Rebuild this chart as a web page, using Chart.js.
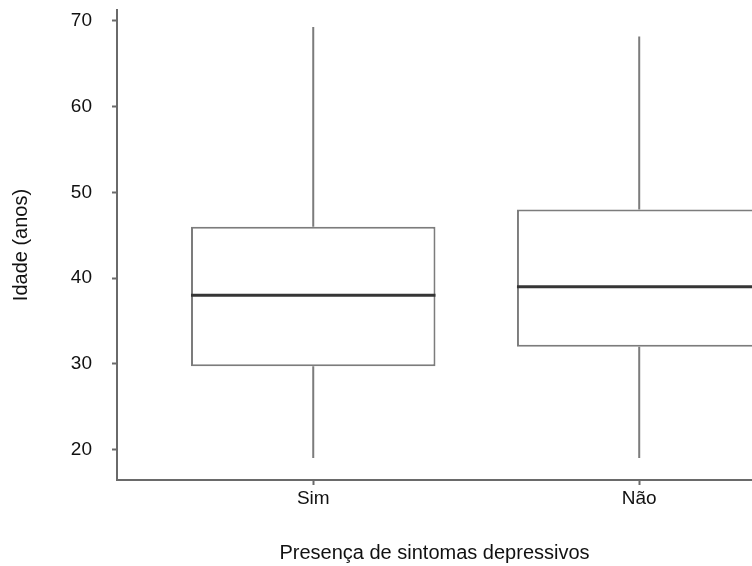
<!DOCTYPE html>
<html>
<head>
<meta charset="utf-8">
<script src="https://cdn.jsdelivr.net/npm/chart.js@4/dist/chart.umd.min.js"></script>
<style>
  html, body { margin: 0; padding: 0; background: #fff; }
  #wrap { width: 752px; height: 566px; }
</style>
</head>
<body>
<div id="wrap"><canvas id="boxChart"></canvas></div>
<script>
// Idade por presença de sintomas depressivos
const grupos = ['Sim', 'Não'];
const posicoes = [1, 2];
const minimo = [19, 19];
const quartil1 = [29.7, 32];
const mediana = [38, 39];
const quartil3 = [46, 48];
const maximo = [69.3, 68.2];
const yTicks = [20, 30, 40, 50, 60, 70];

const familia = "'Liberation Sans', Arial, sans-serif";
const fonteTick = { family: familia, size: 19 };
const fonteTitulo = { family: familia, size: 20 };
const corTexto = '#111';
const corEixo = '#6a6a6a';
const corCaixa = '#7c7c7c';

// whiskers and median line drawn on top of the boxes
const boxLines = {
    id: 'boxLines',
    afterDatasetsDraw(chart) {
        const { ctx, chartArea, scales: { y } } = chart;
        const bars = chart.getDatasetMeta(0).data;
        ctx.save();
        ctx.beginPath();
        ctx.rect(chartArea.left, chartArea.top, chartArea.width, chartArea.height);
        ctx.clip();
        bars.forEach((bar, i) => {
            const half = bar.width / 2;
            ctx.strokeStyle = corCaixa;
            ctx.lineWidth = 2;
            ctx.beginPath();
            ctx.moveTo(bar.x, y.getPixelForValue(quartil3[i]));
            ctx.lineTo(bar.x, y.getPixelForValue(maximo[i]));
            ctx.moveTo(bar.x, y.getPixelForValue(quartil1[i]));
            ctx.lineTo(bar.x, y.getPixelForValue(minimo[i]));
            ctx.stroke();

            ctx.strokeStyle = '#353535';
            ctx.lineWidth = 3;
            ctx.beginPath();
            const my = y.getPixelForValue(mediana[i]);
            ctx.moveTo(bar.x - half, my);
            ctx.lineTo(bar.x + half, my);
            ctx.stroke();
        });
        ctx.restore();
    }
};

new Chart(document.getElementById('boxChart'), {
    type: 'bar',
    data: {
        datasets: [{
            data: posicoes.map((p, i) => ({ x: p, y: [quartil1[i], quartil3[i]] })),
            backgroundColor: '#ffffff',
            borderColor: corCaixa,
            borderWidth: 2,
            borderSkipped: false,
            barPercentage: 0.75,
            categoryPercentage: 1
        }]
    },
    options: {
        responsive: true,
        maintainAspectRatio: false,
        animation: false,
        layout: { padding: { top: 10, left: 0, right: 0, bottom: 0 } },
        plugins: { legend: { display: false }, tooltip: { enabled: false } },
        scales: {
            x: {
                type: 'linear',
                offset: false,
                min: 0.398,
                max: 2.346,
                afterBuildTicks: scale => { scale.ticks = posicoes.map(v => ({ value: v })); },
                afterFit: scale => { scale.height = 86; },
                grid: { offset: false, drawOnChartArea: false, drawTicks: true, tickLength: 5, tickColor: corEixo, tickWidth: 2 },
                border: { color: corEixo, width: 2 },
                ticks: {
                    font: fonteTick,
                    color: corTexto,
                    padding: 2,
                    maxRotation: 0,
                    callback: v => grupos[posicoes.indexOf(v)] ?? ''
                },
                title: {
                    display: true,
                    text: 'Presença de sintomas depressivos',
                    font: fonteTitulo,
                    color: corTexto,
                    padding: { top: 0, bottom: 1 }
                }
            },
            y: {
                min: 16.44,
                max: 71.28,
                afterBuildTicks: scale => { scale.ticks = yTicks.map(v => ({ value: v })); },
                afterFit: scale => {
                    scale.width = 117;
                    scale.paddingTop = 0;
                    scale.paddingBottom = 0;
                },
                grid: { drawOnChartArea: false, drawTicks: true, tickLength: 5, tickColor: corEixo, tickWidth: 2 },
                border: { color: corEixo, width: 2 },
                ticks: { font: fonteTick, color: corTexto, padding: 20 },
                title: {
                    display: true,
                    text: 'Idade (anos)',
                    font: fonteTitulo,
                    color: corTexto,
                    padding: { top: 9, bottom: 0 }
                }
            }
        }
    },
    plugins: [boxLines]
});
</script>
</body>
</html>
